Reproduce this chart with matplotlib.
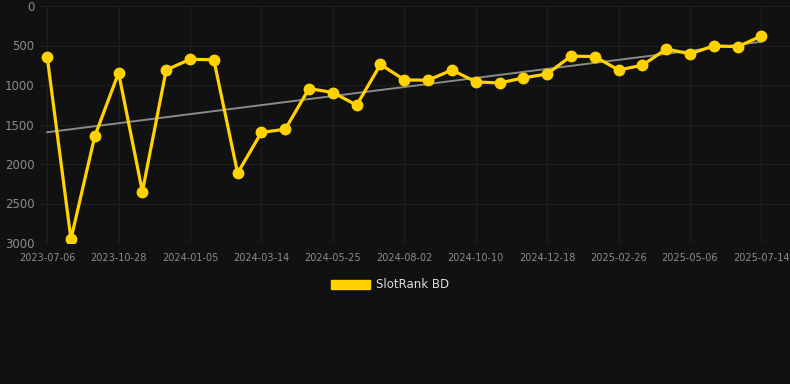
import matplotlib.pyplot as plt
import matplotlib.patches as mpatches
import numpy as np

# category dates (only every third one is labelled)
dates = [
    "2023-07-06", "2023-08-13", "2023-09-20", "2023-10-28", "2023-11-20",
    "2023-12-13", "2024-01-05", "2024-01-28", "2024-02-20", "2024-03-14",
    "2024-04-07", "2024-05-01", "2024-05-25", "2024-06-17", "2024-07-10",
    "2024-08-02", "2024-08-25", "2024-09-17", "2024-10-10", "2024-11-02",
    "2024-11-25", "2024-12-18", "2025-01-10", "2025-02-03", "2025-02-26",
    "2025-03-21", "2025-04-13", "2025-05-06", "2025-05-29", "2025-06-21",
    "2025-07-14",
]
rank = [
    640, 2950, 1650, 845, 2350, 810, 675, 680, 2115, 1600,
    1560, 1045, 1095, 1255, 740, 935, 940, 810, 960, 975,
    910, 860, 635, 640, 810, 750, 545, 605, 505, 515,
    380,
]
series_name = "SlotRank BD"

BG = "#111111"
GOLD = "#FFD200"

fig = plt.figure(figsize=(7.9, 3.84), dpi=100, facecolor=BG)
ax = fig.add_axes([40 / 790, 1 - 243 / 384, 750 / 790, 237 / 384], facecolor=BG)

x = np.arange(len(rank))
y = np.array(rank, dtype=float)

# trend line
k, b = np.polyfit(x, y, 1)
ax.plot(x, k * x + b, color="#8a8a8a", lw=1.4, zorder=2)

ax.plot(x, y, color=GOLD, lw=2.3, marker="o", ms=7.5, zorder=3)

ax.set_ylim(3000, 0)
ax.set_xlim(-0.3, 31.2)
ax.set_yticks([0, 500, 1000, 1500, 2000, 2500, 3000])
ax.set_xticks(x[::3])
ax.set_xticklabels(dates[::3])

ax.grid(True, color="#1f1f1f", lw=0.8)
ax.set_axisbelow(True)
for s in ax.spines.values():
    s.set_visible(False)
ax.axhline(3000, color="#2a2a2a", lw=1, zorder=1)

ax.tick_params(axis="y", colors="#8c8c8c", labelsize=8.5, length=0, pad=4)
ax.tick_params(axis="x", colors="#8c8c8c", labelsize=7, length=0, pad=7)

handle = mpatches.Patch(facecolor=GOLD, edgecolor=GOLD, label=series_name)
leg = fig.legend(handles=[handle], loc="center", bbox_to_anchor=(390 / 790, 1 - 285 / 384),
                 frameon=False, fontsize=8.5, handlelength=3.3, handleheight=0.9,
                 handletextpad=0.5)
for t in leg.get_texts():
    t.set_color("#dddddd")

fig.savefig("out.png", dpi=100, facecolor=BG)
